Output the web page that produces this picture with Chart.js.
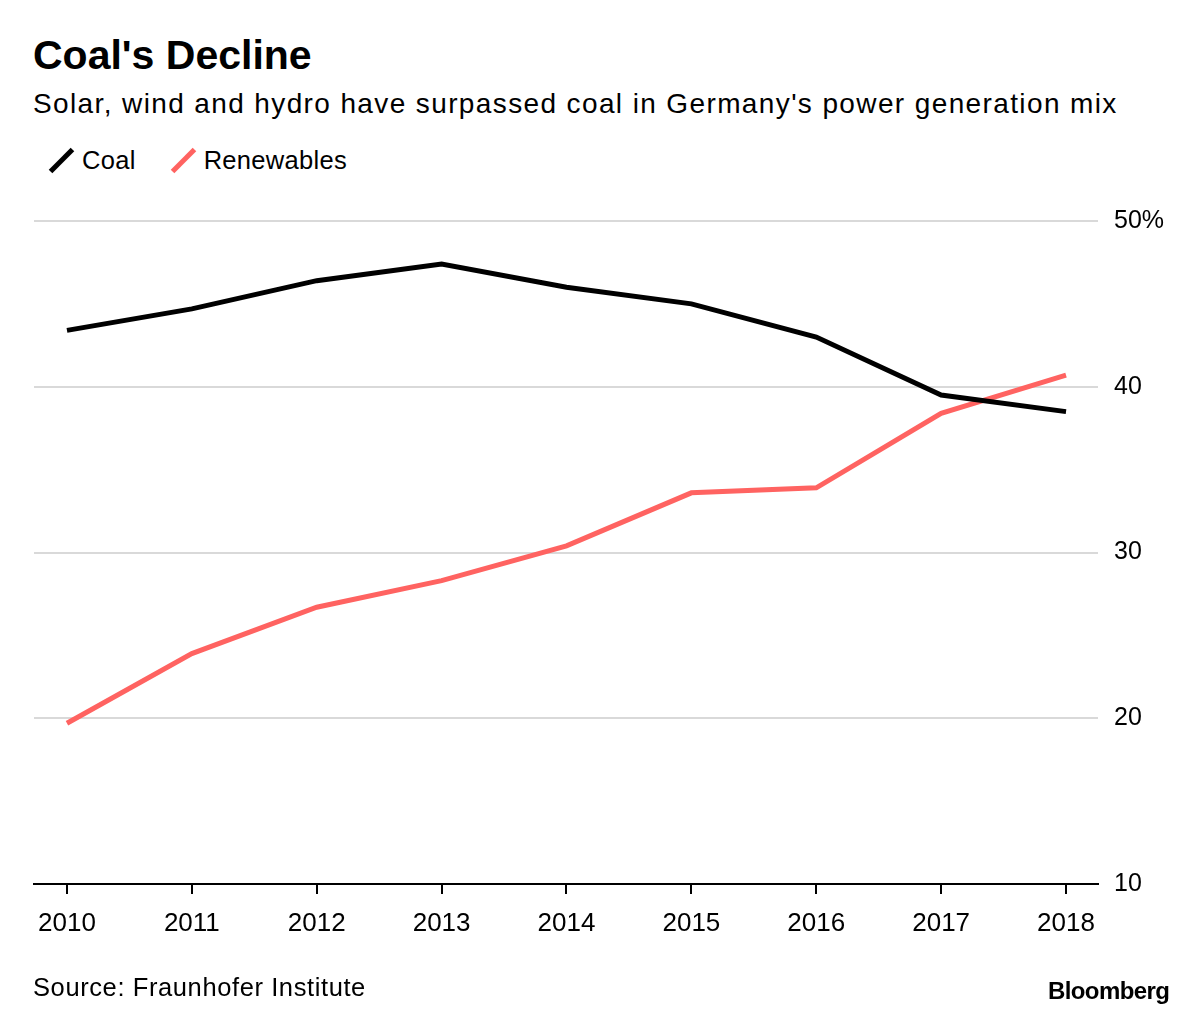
<!DOCTYPE html>
<html><head><meta charset="utf-8">
<script src="https://cdn.jsdelivr.net/npm/chart.js@4"></script>
<style>
html,body{margin:0;padding:0;background:#fff;width:1200px;height:1018px;overflow:hidden;font-family:"Liberation Sans",Arial,sans-serif;color:#000}
#title{position:absolute;left:33px;top:32px;font-size:41px;font-weight:bold;white-space:nowrap}
#sub{position:absolute;left:33px;top:88px;font-size:28px;letter-spacing:1.38px;white-space:nowrap}
#legend{position:absolute;left:50px;top:146px;font-size:25.5px;letter-spacing:0.3px;display:flex;align-items:center}
.item{display:flex;align-items:center;margin-right:36px}
.sw{width:22px;height:22px;position:relative;margin-right:10px}
.sw i{position:absolute;left:-4px;top:8px;width:31px;height:5px;transform:rotate(-45deg)}
#src{position:absolute;left:33px;top:973px;font-size:25.5px;letter-spacing:0.6px;white-space:nowrap}
#bb{position:absolute;left:1048px;top:977px;font-size:24px;font-weight:bold;letter-spacing:-0.6px}
#wrap{position:absolute;left:0;top:0;width:1200px;height:1018px}
</style></head><body>
<div id="title">Coal's Decline</div>
<div id="sub">Solar, wind and hydro have surpassed coal in Germany's power generation mix</div>
<div id="legend">
 <div class="item"><div class="sw"><i style="background:#000"></i></div>Coal</div>
 <div class="item"><div class="sw"><i style="background:#ff6361"></i></div>Renewables</div>
</div>
<div id="wrap"><canvas id="c"></canvas></div>
<div id="src">Source: Fraunhofer Institute</div>
<div id="bb">Bloomberg</div>
<script>
const years = [2010,2011,2012,2013,2014,2015,2016,2017,2018];
const coal = [43.4,44.7,46.4,47.4,46.0,45.0,43.0,39.5,38.5];
const renewables = [19.7,23.9,26.7,28.3,30.4,33.6,33.9,38.4,40.7];
const yTicks = [10,20,30,40,50];

const toPts = arr => years.map((y,i)=>({x:y,y:arr[i]}));
new Chart(document.getElementById('c'),{
  type:'line',
  data:{datasets:[
    {label:'Coal',data:toPts(coal),borderColor:'#000',borderWidth:5,pointRadius:0,tension:0,borderCapStyle:'butt'},
    {label:'Renewables',data:toPts(renewables),borderColor:'#ff6361',borderWidth:5,pointRadius:0,tension:0}
  ]},
  options:{
    responsive:true,maintainAspectRatio:false,animation:false,
    layout:{padding:{left:34,top:221,right:0,bottom:74}},
    plugins:{legend:{display:false},tooltip:{enabled:false}},
    scales:{
      x:{type:'linear',min:2009.736,max:2018.256,
        afterBuildTicks:s=>{s.ticks=years.map(v=>({value:v}));},
        afterFit:s=>{s.height=60;},
        ticks:{color:'#000',font:{family:'Liberation Sans',size:26},padding:14,maxRotation:0,autoSkip:false,callback:v=>String(v)},
        grid:{drawOnChartArea:false,drawTicks:true,tickLength:10,color:'#000',lineWidth:2},
        border:{display:true,color:'#000',width:2}
      },
      y:{position:'right',min:10,max:50,
        afterBuildTicks:s=>{s.ticks=yTicks.map(v=>({value:v}));},
        afterFit:s=>{s.width=102;},
        ticks:{color:'#000',font:{family:'Liberation Sans',size:25},padding:16,callback:v=>v===50?'50%':String(v)},
        grid:{drawTicks:false,color:'#d9d9d9',lineWidth:2},
        border:{display:false}
      }
    }
  }
});
</script>
</body></html>
